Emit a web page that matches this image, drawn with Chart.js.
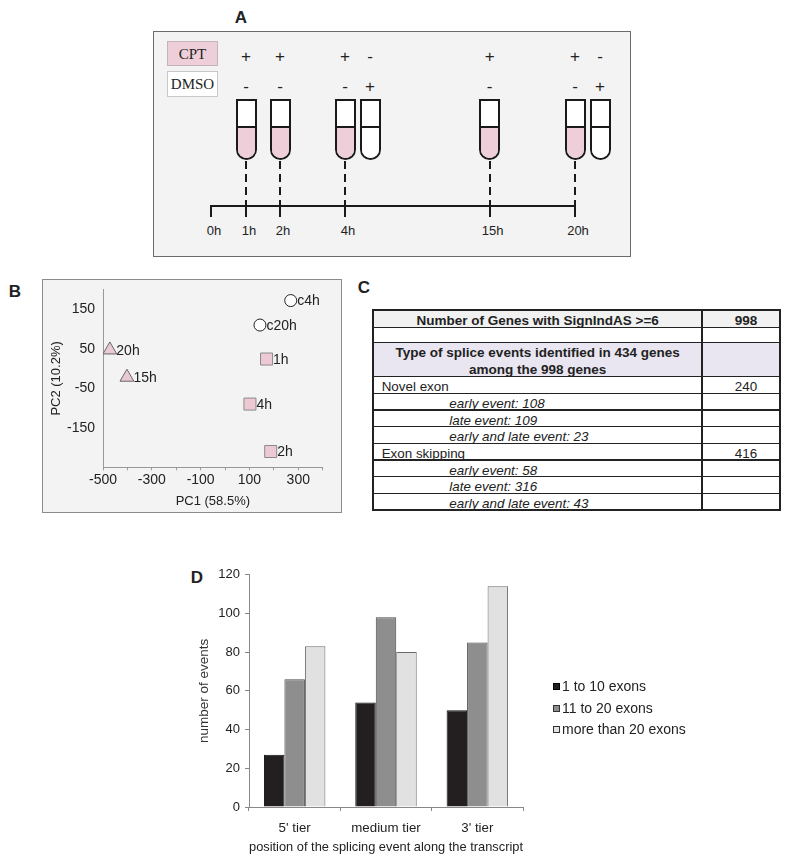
<!DOCTYPE html>
<html>
<head>
<meta charset="utf-8">
<script src="https://cdn.jsdelivr.net/npm/chart.js@4.4.1/dist/chart.umd.min.js"></script>
<style>
  html, body { margin: 0; padding: 0; background: #fff; }
  body {
    width: 800px; height: 860px; position: relative; overflow: hidden;
    font-family: "Liberation Sans", Arial, Helvetica, sans-serif; color: #222;
  }
  .abs { position: absolute; }
  .plabel { position: absolute; font-weight: bold; font-size: 17px; transform: translate(-50%, -50%); }
  .sign { position: absolute; font-size: 17px; transform: translate(-50%, -50%); line-height: 1; }
  .tube {
    position: absolute; box-sizing: border-box; width: 21px; height: 61px;
    border: 2px solid #1a1a1a; border-radius: 0 0 10.5px 10.5px; overflow: hidden; background: #fff;
  }
  .liquid { position: absolute; left: 0; right: 0; bottom: 0; height: 30px; border-top: 2px solid #1a1a1a; }
  .tlabel { position: absolute; font-size: 13px; transform: translate(-50%, -50%); line-height: 1; }
  .legend-item { position: absolute; font-size: 14px; line-height: 1; transform: translateY(-50%); white-space: nowrap; }
  .legend-item i { display: inline-block; width: 7px; height: 7px; box-sizing: border-box; border: 1px solid #333; margin-right: 2px; vertical-align: 1px; }
</style>
</head>
<body>
<div class="plabel" style="left:241px;top:18px">A</div>
<div class="plabel" style="left:15px;top:292px">B</div>
<div class="plabel" style="left:364px;top:288px">C</div>
<div class="plabel" style="left:197px;top:578px">D</div>

<div id="panelA" class="abs" style="left:153.3px;top:30.5px;width:478px;height:226px;box-sizing:border-box;background:#f3f3f3;border:1.5px solid #6a6a6a"></div>
<div class="abs" style="left:166.7px;top:40.7px;width:51.6px;height:25px;box-sizing:border-box;background:#eecfd9;border:1px solid #c4b4b9;font:15px 'Liberation Serif','Times New Roman',serif;text-align:center;line-height:24px">CPT</div>
<div class="abs" style="left:166.7px;top:71px;width:51.6px;height:26px;box-sizing:border-box;background:#fff;border:1px solid #c8c8c8;font:15px 'Liberation Serif','Times New Roman',serif;text-align:center;line-height:25px">DMSO</div>
<div id="schematic"></div>

<div class="abs" style="left:42px;top:279px;width:300px;height:234px;box-sizing:border-box;background:#f3f3f3;border:1px solid #8a8a8a">
  <canvas id="pca" width="298" height="232" style="display:block"></canvas>
</div>

<div id="table"></div>

<canvas id="bars" class="abs" width="560" height="300" style="left:150px;top:560px"></canvas>
<div id="legend"></div>

<script>
// ---- panel A: treatment schedule
const timeLabels = ['0h', '1h', '2h', '4h', '15h', '20h']
const sampleTimes = ['1h', '2h', '4h', '4h', '15h', '20h', '20h']
const cptSigns = ['+', '+', '+', '-', '+', '+', '-']
const dmsoSigns = ['-', '-', '-', '+', '-', '-', '+']

// ---- panel B: PCA
const pcaNames = ['c4h', 'c20h', '20h', '15h', '1h', '4h', '2h']
const pc1 = [269, 143, -472, -402, 170, 102, 187]
const pc2 = [172, 110, 47, -22, 24, -90, -210]
const pcaGroups = ['control', 'control', 'late', 'late', 'early', 'early', 'early']
const pc1Steps = [-500, -400, -300, -200, -100, 0, 100, 200, 300, 400]
const pc1Ticks = [-500, -300, -100, 100, 300]
const pc2Ticks = [-150, -50, 50, 150]

// ---- panel C: table
const tableText = [
  'Number of Genes with SignIndAS >=6', '',
  'Type of splice events identified in 434 genes<br>among the 998 genes',
  'Novel exon', 'early event: 108', 'late event: 109', 'early and late event: 23',
  'Exon skipping', 'early event: 58', 'late event: 316', 'early and late event: 43'
]
const tableCounts = ['998', '', '', '240', '', '', '', '416', '', '', '']
const tableKinds = ['head', 'blank', 'section', 'type', 'sub', 'sub', 'sub', 'type', 'sub', 'sub', 'sub']

// ---- panel D: bars
const tiers = ["5' tier", 'medium tier', "3' tier"]
const exonGroups = ['1 to 10 exons', '11 to 20 exons', 'more than 20 exons']
const fewExons = [27, 54, 50]
const midExons = [66, 98, 85]
const manyExons = [83, 80, 114]

Chart.defaults.font.family = '"Liberation Sans", Arial, Helvetica, sans-serif'
Chart.defaults.color = '#222'

const PINK = '#eecfd9'

// schematic layout
const timeX = [211, 246, 280, 345, 489.7, 575]
const axisY = 206
const sch = document.getElementById('schematic')
function el (cls, style, html) {
  const d = document.createElement('div')
  d.className = cls
  d.setAttribute('style', style)
  if (html !== undefined) d.innerHTML = html
  sch.appendChild(d)
  return d
}

sampleTimes.forEach((t, i) => {
  const isCpt = cptSigns[i] === '+'
  const x = timeX[timeLabels.indexOf(t)] + (isCpt ? 0 : 25)
  el('sign', `left:${x}px;top:56px`, cptSigns[i])
  el('sign', `left:${x}px;top:86px`, dmsoSigns[i])
  const tube = el('tube', `left:${x - 10.5}px;top:99px`)
  const liq = document.createElement('div')
  liq.className = 'liquid'
  liq.style.background = isCpt ? PINK : '#fff'
  tube.appendChild(liq)
  if (isCpt) {
    el('abs', `left:${x - 1}px;top:161px;width:2px;height:${axisY - 161}px;` +
      'background:repeating-linear-gradient(to bottom,#1a1a1a 0 8px,transparent 8px 13px)')
  }
})
el('abs', `left:${timeX[0] - 1}px;top:${axisY - 1}px;width:${timeX[5] - timeX[0] + 2}px;height:2px;background:#1a1a1a`)
timeLabels.forEach((t, i) => {
  el('abs', `left:${timeX[i] - 1}px;top:${axisY - 1}px;width:2px;height:12px;background:#1a1a1a`)
  el('tlabel', `left:${timeX[i] + 3}px;top:230px`, t)
})

// PCA scatter
const groupStyle = {
  control: { shape: 'circle', r: 6, fill: '#ffffff', line: '#222' },
  late: { shape: 'triangle', r: 8, fill: '#e9c9d3', line: '#666' },
  early: { shape: 'rect', r: 8.5, fill: '#edc9d4', line: '#8a8a8a' }
}

const pointLabels = {
  id: 'pointLabels',
  afterDatasetsDraw (chart) {
    const ctx = chart.ctx
    const meta = chart.getDatasetMeta(0)
    ctx.save()
    ctx.font = '14px "Liberation Sans", Arial, sans-serif'
    ctx.fillStyle = '#222'
    ctx.textBaseline = 'middle'
    meta.data.forEach((pt, i) => ctx.fillText(pcaNames[i], pt.x + 6.5, pt.y + 1))
    ctx.restore()
  }
}

new Chart(document.getElementById('pca'), {
  type: 'scatter',
  data: {
    datasets: [{
      data: pc1.map((x, i) => ({ x, y: pc2[i] })),
      pointStyle: pcaGroups.map(g => groupStyle[g].shape),
      pointRadius: pcaGroups.map(g => groupStyle[g].r),
      pointBackgroundColor: pcaGroups.map(g => groupStyle[g].fill),
      pointBorderColor: pcaGroups.map(g => groupStyle[g].line),
      pointBorderWidth: 1
    }]
  },
  options: {
    responsive: false,
    animation: false,
    devicePixelRatio: 1,
    layout: { padding: { left: 0, top: 5, right: 18.3, bottom: 0 } },
    plugins: { legend: { display: false }, tooltip: { enabled: false } },
    scales: {
      x: {
        type: 'linear',
        min: -500,
        max: 400,
        afterBuildTicks: s => { s.ticks = pc1Steps.map(v => ({ value: v })) },
        afterFit: s => { s.height = 44.7; s.paddingLeft = 0; s.paddingRight = 0 },
        ticks: {
          color: '#222', font: { size: 14 }, padding: 1, maxRotation: 0, autoSkip: false,
          callback: v => (pc1Ticks.includes(v) ? String(v) : '')
        },
        grid: { drawOnChartArea: false, tickLength: 3, color: '#999' },
        border: { color: '#999' },
        title: { display: true, text: 'PC1 (58.5%)', color: '#222', font: { size: 13 }, padding: { top: 0, bottom: 2.5 } }
      },
      y: {
        type: 'linear',
        min: -250,
        max: 200,
        afterBuildTicks: s => { s.ticks = pc2Ticks.map(v => ({ value: v })) },
        afterFit: s => { s.width = 60; s.paddingTop = 0; s.paddingBottom = 0 },
        ticks: { color: '#222', font: { size: 14 }, padding: 8 },
        grid: { drawOnChartArea: false, drawTicks: false },
        border: { color: '#999' },
        title: { display: true, text: 'PC2 (10.2%)', color: '#222', font: { size: 13 }, padding: { top: 5.2 } }
      }
    }
  },
  plugins: [pointLabels]
})

// table
const rowH = [17.3, 15.4, 34, 16.6, 16.7, 16.7, 16.6, 16.7, 16.7, 16.6, 16.7]
const T = { left: 373.3, top: 310, right: 780, split: 702 }
const tbl = document.getElementById('table')
function tdiv (style, html) {
  const d = document.createElement('div')
  d.className = 'abs'
  d.setAttribute('style', style)
  if (html !== undefined) d.innerHTML = html
  tbl.appendChild(d)
  return d
}
let y = T.top
const colMid = (T.left + T.split) / 2
tableText.forEach((txt, i) => {
  const h = rowH[i]
  const kind = tableKinds[i]
  const bottom = y + h
  const bg = kind === 'head' ? '#f1f1f1' : kind === 'section' ? '#e9e6f1' : '#fff'
  tdiv(`left:${T.left}px;top:${y}px;width:${T.right - T.left}px;height:${h}px;background:${bg}`)
  if (i > 0) tdiv(`left:${T.left}px;top:${y - 0.75}px;width:${T.right - T.left}px;height:1.5px;background:#222`)
  if (kind === 'head') {
    tdiv(`left:${colMid}px;top:${bottom - 14.6}px;transform:translateX(-50%);font-weight:bold;font-size:13.5px;line-height:15px;white-space:nowrap`, txt)
  } else if (kind === 'section') {
    tdiv(`left:${colMid}px;top:${y + 1.1}px;transform:translateX(-50%);font-weight:bold;font-size:13.5px;line-height:17px;text-align:center;white-space:nowrap`, txt)
  } else if (kind === 'type') {
    tdiv(`left:${T.left + 8.4}px;top:${bottom - 14}px;font-size:13.4px;line-height:15px;white-space:nowrap`, txt)
  } else if (kind === 'sub') {
    tdiv(`left:449.3px;top:${bottom - 14}px;font-size:13.4px;line-height:15px;font-style:italic;white-space:nowrap`, txt)
  }
  if (tableCounts[i]) {
    const bold = kind === 'head' ? 'font-weight:bold;font-size:13.5px;' : 'font-size:13.4px;'
    tdiv(`left:746px;top:${bottom - (kind === 'head' ? 14.6 : 14)}px;transform:translateX(-50%);line-height:15px;${bold}`, tableCounts[i])
  }
  y = bottom
})
tdiv(`left:${T.split - 0.75}px;top:${T.top}px;width:1.5px;height:${y - T.top}px;background:#222`)
tdiv(`left:${T.left - 1}px;top:${T.top - 1}px;width:${T.right - T.left + 2}px;height:${y - T.top + 2}px;box-sizing:border-box;border:2px solid #222`)

// bar chart
const barFill = ['#231f20', '#8e8e8e', '#e1e1e1']
const barLine = ['#111111', '#4a4a4a', '#6a6a6a']
const series = [fewExons, midExons, manyExons]

new Chart(document.getElementById('bars'), {
  type: 'bar',
  data: {
    labels: tiers,
    datasets: series.map((d, i) => ({
      label: exonGroups[i],
      data: d,
      backgroundColor: barFill[i],
      borderColor: barLine[i],
      borderWidth: 1,
      categoryPercentage: 0.673,
      barPercentage: 1
    }))
  },
  options: {
    responsive: false,
    animation: false,
    devicePixelRatio: 1,
    layout: { padding: { left: 0, top: 14.6, right: 187, bottom: 0 } },
    plugins: { legend: { display: false }, tooltip: { enabled: false } },
    scales: {
      x: {
        afterFit: s => { s.height = 53; s.paddingLeft = 0; s.paddingRight = 0 },
        ticks: { color: '#222', font: { size: 13.3 }, padding: 9, maxRotation: 0 },
        grid: { offset: true, drawOnChartArea: false, tickLength: 4, color: '#888' },
        border: { color: '#888' },
        title: {
          display: true, text: 'position of the splicing event along the transcript',
          color: '#222', font: { size: 13.5 }, padding: { top: 0, bottom: 4.9 }
        }
      },
      y: {
        min: 0,
        max: 120,
        afterFit: s => { s.width = 99; s.paddingTop = 0; s.paddingBottom = 0 },
        ticks: { stepSize: 20, color: '#222', font: { size: 13 }, padding: 5 },
        grid: { drawOnChartArea: false, tickLength: 4, color: '#888' },
        border: { color: '#888' },
        title: { display: true, text: 'number of events', color: '#333', font: { size: 13.5 }, padding: { top: 46.6 } }
      }
    }
  }
})

// legend for panel D
const leg = document.getElementById('legend')
const legendY = [686, 708, 729]
exonGroups.forEach((name, i) => {
  const d = document.createElement('div')
  d.className = 'legend-item'
  d.style.left = '553px'
  d.style.top = legendY[i] + 'px'
  d.innerHTML = `<i style="background:${barFill[i]};border-color:${i === 0 ? '#000' : '#333'}"></i>${name}`
  leg.appendChild(d)
})
</script>
</body>
</html>
